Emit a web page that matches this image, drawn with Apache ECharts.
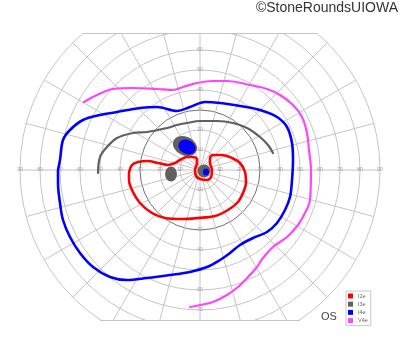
<!DOCTYPE html>
<html>
<head>
<meta charset="utf-8">
<script src="https://cdn.jsdelivr.net/npm/echarts@6/dist/echarts.min.js"></script>
<style>html,body{margin:0;padding:0;background:#fff}#chart{width:400px;height:352px}</style>
</head>
<body>
<div id="chart"></div>
<script>
// ---- data (degrees of visual field: x = horizontal, y = vertical) ----
const categories = ['I2e', 'I3e', 'I4e', 'V4e'];
const ringStep = 10;        // eccentricity rings every 10 deg
const meridianStep = 15;    // meridians every 15 deg

const i2eIsopter = [
  [-35.5,-1.5],[-34,2.5],[-31,4],[-26,4.5],[-21,3.5],[-16,2.5],[-12.5,3.5],[-10,5],[-6.5,6.5],
  [-3.5,6.5],[-1.5,5.5],[-1.5,3.5],[-2.5,0],[-2,-3],[0,-4.5],[3.5,-5],[5.5,-3.5],[6,0],[5,3.5],
  [5,6],[6.5,7.5],[11,7.5],[16,6],[20,3.5],[22.5,-1],[23,-6.5],[21.5,-11.5],[19,-16],[14,-20],
  [7.5,-23],[-1,-24],[-9,-24.5],[-17.5,-24],[-24,-21.5],[-30,-16.5],[-34,-10],[-35.5,-5],[-35.5,-1.5]
];
const i3eIsopter = [
  [-51,-1.5],[-50,6.5],[-46.5,11.5],[-41.5,16],[-33.5,18.5],[-26.5,19],[-16.5,21],[-11.5,22.5],
  [-6.5,23.5],[0,24.5],[8.5,24.5],[16.5,23.5],[23.5,21],[30,16.5],[34,12.5],[36.5,8.5]
];
const i4eIsopter = [
  [-71,0],[-70,5],[-68.5,15],[-65,20],[-58.5,25],[-50,27.5],[-41.5,29],[-30,31],[-21.5,31.5],
  [-11.5,29.5],[-5,31.5],[2.5,34],[10,33.5],[20,32],[30,30],[38.5,26.5],[43.5,21.5],[46,13.5],
  [46.5,5],[46,-5],[45,-13.5],[42.5,-20],[38.5,-26.5],[33.5,-31],[26.5,-34],[20,-37.5],[15,-41.5],
  [10,-45],[3.5,-48.5],[-5,-51],[-15,-52.5],[-26.5,-54],[-36.5,-55],[-45,-53.5],[-53.5,-48.5],
  [-60,-41.5],[-65,-33.5],[-68.5,-25],[-70,-16.5],[-71,-6.5],[-71,0]
];
const v4eIsopter = [
  [-58,34],[-51.5,37.5],[-43.5,40.5],[-33.5,41],[-21.5,40.5],[-13.5,40],[-8.5,41.5],[-1.5,43.5],
  [6.5,44.5],[13.5,44.5],[25,42.5],[33.5,40.5],[40,37.5],[46.5,32.5],[51,26.5],[53.5,18.5],
  [54.5,10],[55.5,0],[55,-15],[52.5,-21.5],[49,-27.5],[43.5,-33.5],[36.5,-38.5],[31.5,-44],
  [28.5,-48.5],[24,-53.5],[19,-58.5],[13.5,-62.5],[6.5,-66],[0,-67.5],[-5,-68.5]
];
const i3eScotomas = [[-7.5,12],[-14.5,-2],[2,-0.5]];
const i4eScotomas = [[-6.5,11.5],[3,-1]];

// ---- styles ----
const colors = { I2e: '#ff0000', I3e: '#606060', I4e: '#0000ff', V4e: '#ff44ff' };
const greyBlobStyle = [ {size:[25,19], rot:-25}, {size:[12,15], rot:0}, {size:[13,13], rot:0} ];
const blueBlobStyle = [ {size:[18,14], rot:-25}, {size:[6,7], rot:0} ];

const CENTER = [200, 170], R = 180;
const gridLight = '#c4c4c4';

function ringColors() {
  const arr = [];
  for (let v = 0; v <= 90; v += ringStep) arr.push(v === 30 ? '#707070' : gridLight);
  return arr;
}

const labelAxis = (idx, pad) => ({
  polarIndex: idx, type: 'value', min: 0, max: 90, interval: ringStep,
  axisLine: {show: false}, axisTick: {show: false}, splitLine: {show: false},
  axisLabel: {
    show: true, fontSize: 5, color: '#9a9a9a', margin: 0, align: 'center', verticalAlign: 'middle',
    showMinLabel: false, padding: pad, fontFamily: 'Liberation Sans'
  }
});
const hiddenAngle = (idx, start) => ({
  polarIndex: idx, type: 'value', min: 0, max: 360, startAngle: start, clockwise: false,
  axisLine: {show: false}, axisTick: {show: false}, axisLabel: {show: false}, splitLine: {show: false}
});

const lineSeries = (name, data, width) => ({
  name, type: 'line', data, smooth: 0.35, showSymbol: false, symbol: 'none',
  xAxisIndex: 0, yAxisIndex: 0, z: 4,
  lineStyle: {color: colors[name], width, cap: 'round', join: 'round'},
  itemStyle: {color: colors[name]}
});

const option = {
  animation: false,
  polar: [0,1,2,3].map(() => ({center: CENTER, radius: R})),
  angleAxis: [
    { polarIndex: 0, type: 'value', min: 0, max: 360, interval: meridianStep, startAngle: 0, clockwise: false,
      axisLine: {show: false}, axisTick: {show: false}, axisLabel: {show: false},
      splitLine: {show: true, lineStyle: {color: gridLight, width: 1}} },
    hiddenAngle(1, 180), hiddenAngle(2, 90), hiddenAngle(3, 270)
  ],
  radiusAxis: [
    { polarIndex: 0, type: 'value', min: 0, max: 90, interval: ringStep,
      axisLine: {show: false}, axisTick: {show: false},
      axisLabel: {show: true, fontSize: 5, color: '#9a9a9a', margin: 0, align: 'center', verticalAlign: 'middle',
                  showMinLabel: false, fontFamily: 'Liberation Sans'},
      splitLine: {show: true, lineStyle: {color: ringColors(), width: 1}} },
    labelAxis(1, 0), labelAxis(2, [0,0,3,0]), labelAxis(3, [10,0,0,0])
  ],
  grid: {left: CENTER[0] - R, top: 0, width: 2 * R, height: 340},
  xAxis: {type: 'value', min: -90, max: 90, show: false},
  yAxis: {type: 'value', min: -85, max: 85, show: false},
  legend: {
    z: 300, zlevel: 0,
    orient: 'vertical', left: 346, top: 291, padding: [2, 3, 2, 2],
    itemWidth: 5, itemHeight: 5, itemGap: 2.2,
    borderColor: '#c8c8c8', borderWidth: 1, borderRadius: 0, backgroundColor: '#fff',
    textStyle: {fontSize: 5.5, color: '#666', lineHeight: 5, fontFamily: 'Liberation Sans'},
    itemStyle: {borderWidth: 0},
    data: categories.map(n => ({name: n, icon: 'rect'}))
  },
  series: [
    { name: 'I3e', type: 'scatter', z: 3,
      data: i3eScotomas.map((p, i) => ({value: p, symbolSize: greyBlobStyle[i].size, symbolRotate: greyBlobStyle[i].rot})),
      symbol: 'circle', itemStyle: {color: colors.I3e, opacity: 1} },
    { name: 'I4e', type: 'scatter', z: 3,
      data: i4eScotomas.map((p, i) => ({value: p, symbolSize: blueBlobStyle[i].size, symbolRotate: blueBlobStyle[i].rot})),
      symbol: 'circle', itemStyle: {color: colors.I4e, opacity: 1} },
    lineSeries('V4e', v4eIsopter, 2.2),
    lineSeries('I4e', i4eIsopter, 2.6),
    lineSeries('I3e', i3eIsopter, 2.2),
    lineSeries('I2e', i2eIsopter, 2.6)
  ],
  graphic: [
    {type: 'rect', z: 100, shape: {x: 0, y: 0, width: 400, height: 33}, style: {fill: '#fff'}},
    {type: 'rect', z: 100, shape: {x: 0, y: 320.5, width: 340, height: 40}, style: {fill: '#fff'}},
    {type: 'line', z: 101, shape: {x1: 83, y1: 33.5, x2: 317, y2: 33.5}, style: {stroke: gridLight, lineWidth: 1}},
    {type: 'line', z: 101, shape: {x1: 100, y1: 320.5, x2: 300, y2: 320.5}, style: {stroke: gridLight, lineWidth: 1}},
    {type: 'text', z: 102, style: {x: 398, y: 8.5, text: '©StoneRoundsUIOWA', fill: '#333',
      font: '14px "Liberation Sans", Arial, sans-serif', align: 'right', verticalAlign: 'middle'}},
    {type: 'text', z: 102, style: {x: 321, y: 317, text: 'OS', fill: '#444',
      font: '11px "Liberation Sans", Arial, sans-serif', align: 'left', verticalAlign: 'middle'}}
  ]
};

const chart = echarts.init(document.getElementById('chart'), null, {renderer: 'canvas'});
chart.setOption(option);
</script>
</body>
</html>
